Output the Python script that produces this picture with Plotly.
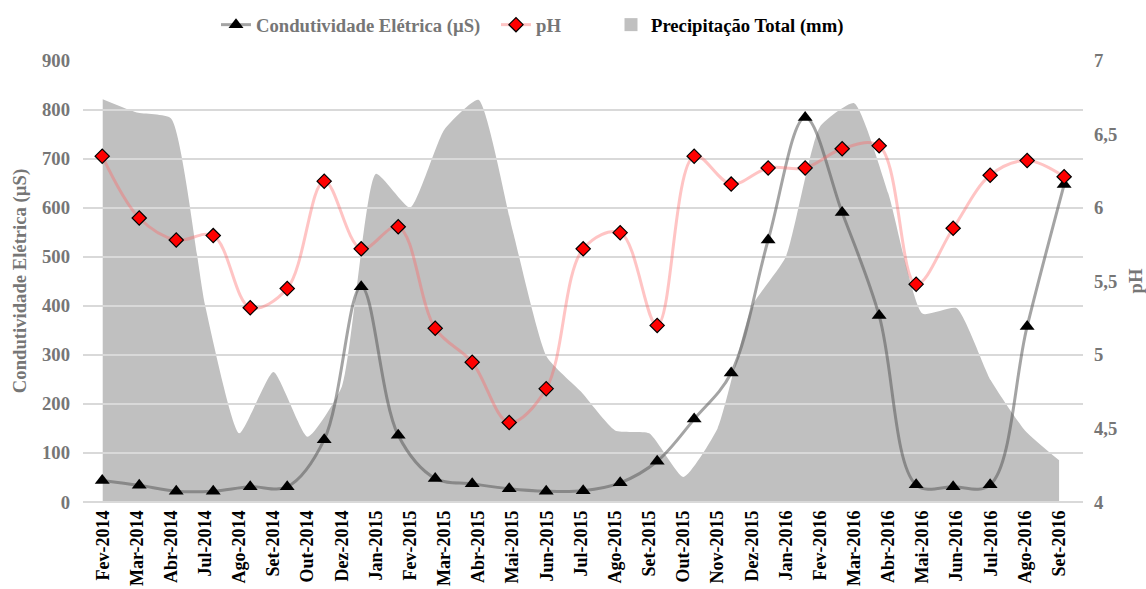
import plotly.graph_objects as go

# Category labels for the precipitation axis
meses = ["Fev-2014", "Mar-2014", "Abr-2014", "Jul-2014", "Ago-2014", "Set-2014", "Out-2014",
         "Dez-2014", "Jan-2015", "Fev-2015", "Mar-2015", "Abr-2015", "Mai-2015", "Jun-2015",
         "Jul-2015", "Ago-2015", "Set-2015", "Out-2015", "Nov-2015", "Dez-2015", "Jan-2016",
         "Fev-2016", "Mar-2016", "Abr-2016", "Mai-2016", "Jun-2016", "Jul-2016", "Ago-2016",
         "Set-2016"]

# Total precipitation (mm), one value per month label
precipitacao = [821, 794, 782, 400, 140, 265, 133, 235, 669, 600, 759, 820, 554, 296, 225,
                146, 140, 51, 150, 398, 500, 765, 813, 629, 384, 395, 248, 146, 85]

# Electrical conductivity (µS) samples
condutividade = [44, 34, 22, 22, 31, 31, 127, 439, 136, 48, 37, 27, 22, 23, 39, 83, 169, 263,
                 534, 784, 590, 380, 35, 31, 35, 358, 647]

# pH samples
ph = [6.35, 5.93, 5.78, 5.81, 5.32, 5.45, 6.18, 5.72, 5.87, 5.18, 4.95, 4.54, 4.77, 5.72, 5.83,
      5.20, 6.35, 6.16, 6.27, 6.27, 6.40, 6.42, 5.48, 5.86, 6.22, 6.32, 6.21]

ph_ticks = [4, 4.5, 5, 5.5, 6, 6.5, 7]
ph_ticktext = ["4", "4,5", "5", "5,5", "6", "6,5", "7"]

FONT = "Liberation Serif"
FS = 18.67
GRAY_TXT = "#767676"
AREA = "#c0c0c0"
GRID = "#d9d9d9"

# a hair of headroom so the top gridline (900 / pH 7) is kept inside the plot
Y_MAX = 901
PH_MAX = 4 + 3 * Y_MAX / 900

fig = go.Figure()

# Precipitation area (bottom subplot, no gridlines of its own)
fig.add_trace(go.Scatter(
    x=list(range(len(meses))), y=precipitacao, xaxis="x", yaxis="y",
    mode="lines", line=dict(color=AREA, width=0, shape="spline", smoothing=0.5),
    fill="tozeroy", fillcolor=AREA, showlegend=False, hoverinfo="skip",
))
# Legend entry for precipitation
fig.add_trace(go.Scatter(
    x=[None], y=[None], xaxis="x", yaxis="y", mode="markers",
    marker=dict(symbol="square", size=13, color=AREA),
    name="Precipitação Total (mm)", legend="legend3",
))

n = len(condutividade)
# Conductivity line (top subplot, whose gridlines sit above the area)
fig.add_trace(go.Scatter(
    x=list(range(n)), y=condutividade, xaxis="x2", yaxis="y2",
    mode="lines+markers", name="Condutividade Elétrica (µS)",
    line=dict(color="rgba(90,90,90,0.55)", width=3, shape="spline", smoothing=1),
    marker=dict(symbol="triangle-up", size=13, color="black"),
    legend="legend",
))
# pH line on the right axis
fig.add_trace(go.Scatter(
    x=list(range(n)), y=ph, xaxis="x2", yaxis="y3",
    mode="lines+markers", name="pH",
    line=dict(color="rgba(255,100,100,0.38)", width=3, shape="spline", smoothing=1),
    marker=dict(symbol="diamond", size=11, color="#ff0000", line=dict(color="black", width=1.2)),
    legend="legend2",
))

tickfont_gray = dict(family=FONT, size=FS, color=GRAY_TXT, weight="bold")

fig.update_layout(
    width=1146, height=589,
    margin=dict(l=83, r=63, t=60, b=87, autoexpand=False),
    paper_bgcolor="white", plot_bgcolor="rgba(0,0,0,0)",
    font=dict(family=FONT, size=FS, color=GRAY_TXT, weight="bold"),
    xaxis=dict(
        domain=[0, 1], anchor="y", range=[-0.577, 28.70], automargin=False,
        tickmode="array", tickvals=list(range(len(meses))), ticktext=meses,
        tickangle=-90, tickfont=dict(family=FONT, size=18, color="black", weight="bold"),
        showgrid=False, zeroline=False, showline=False, ticks="", ticklabelstandoff=4,
    ),
    yaxis=dict(
        domain=[0, 1], anchor="x", range=[0, Y_MAX], dtick=100, automargin=False,
        showgrid=False, zeroline=False, ticks="", tickfont=tickfont_gray,
        ticklabelstandoff=12,
        title=dict(text="Condutividade Elétrica (µS)", font=tickfont_gray, standoff=10),
    ),
    xaxis2=dict(
        domain=[0, 1], anchor="y2", range=[-0.52, 26.51], automargin=False,
        showticklabels=False, showgrid=False, zeroline=False, showline=False, ticks="",
    ),
    yaxis2=dict(
        domain=[0, 1], anchor="x2", range=[0, Y_MAX], dtick=100, automargin=False,
        showgrid=True, gridcolor=GRID, gridwidth=1.5,
        zeroline=True, zerolinecolor=GRID, zerolinewidth=1.5,
        showticklabels=False, ticks="",
    ),
    yaxis3=dict(
        overlaying="y2", anchor="x2", side="right", range=[4, PH_MAX], automargin=False,
        tickmode="array", tickvals=ph_ticks, ticktext=ph_ticktext,
        showgrid=False, zeroline=False, ticks="", tickfont=tickfont_gray,
        ticklabelstandoff=10,
        title=dict(text="pH", font=tickfont_gray, standoff=12),
    ),
    legend=dict(orientation="h", xref="container", yref="container",
                x=216 / 1146, y=1 - 25 / 589, xanchor="left", yanchor="middle",
                font=dict(family=FONT, size=FS, color=GRAY_TXT, weight="bold"),
                bgcolor="rgba(0,0,0,0)"),
    legend2=dict(orientation="h", xref="container", yref="container",
                 x=496 / 1146, y=1 - 25 / 589, xanchor="left", yanchor="middle",
                 font=dict(family=FONT, size=FS, color=GRAY_TXT, weight="bold"),
                 bgcolor="rgba(0,0,0,0)"),
    legend3=dict(orientation="h", xref="container", yref="container",
                 x=611 / 1146, y=1 - 25 / 589, xanchor="left", yanchor="middle",
                 font=dict(family=FONT, size=FS, color="black", weight="bold"),
                 bgcolor="rgba(0,0,0,0)"),
)

fig.write_html("out.html")
